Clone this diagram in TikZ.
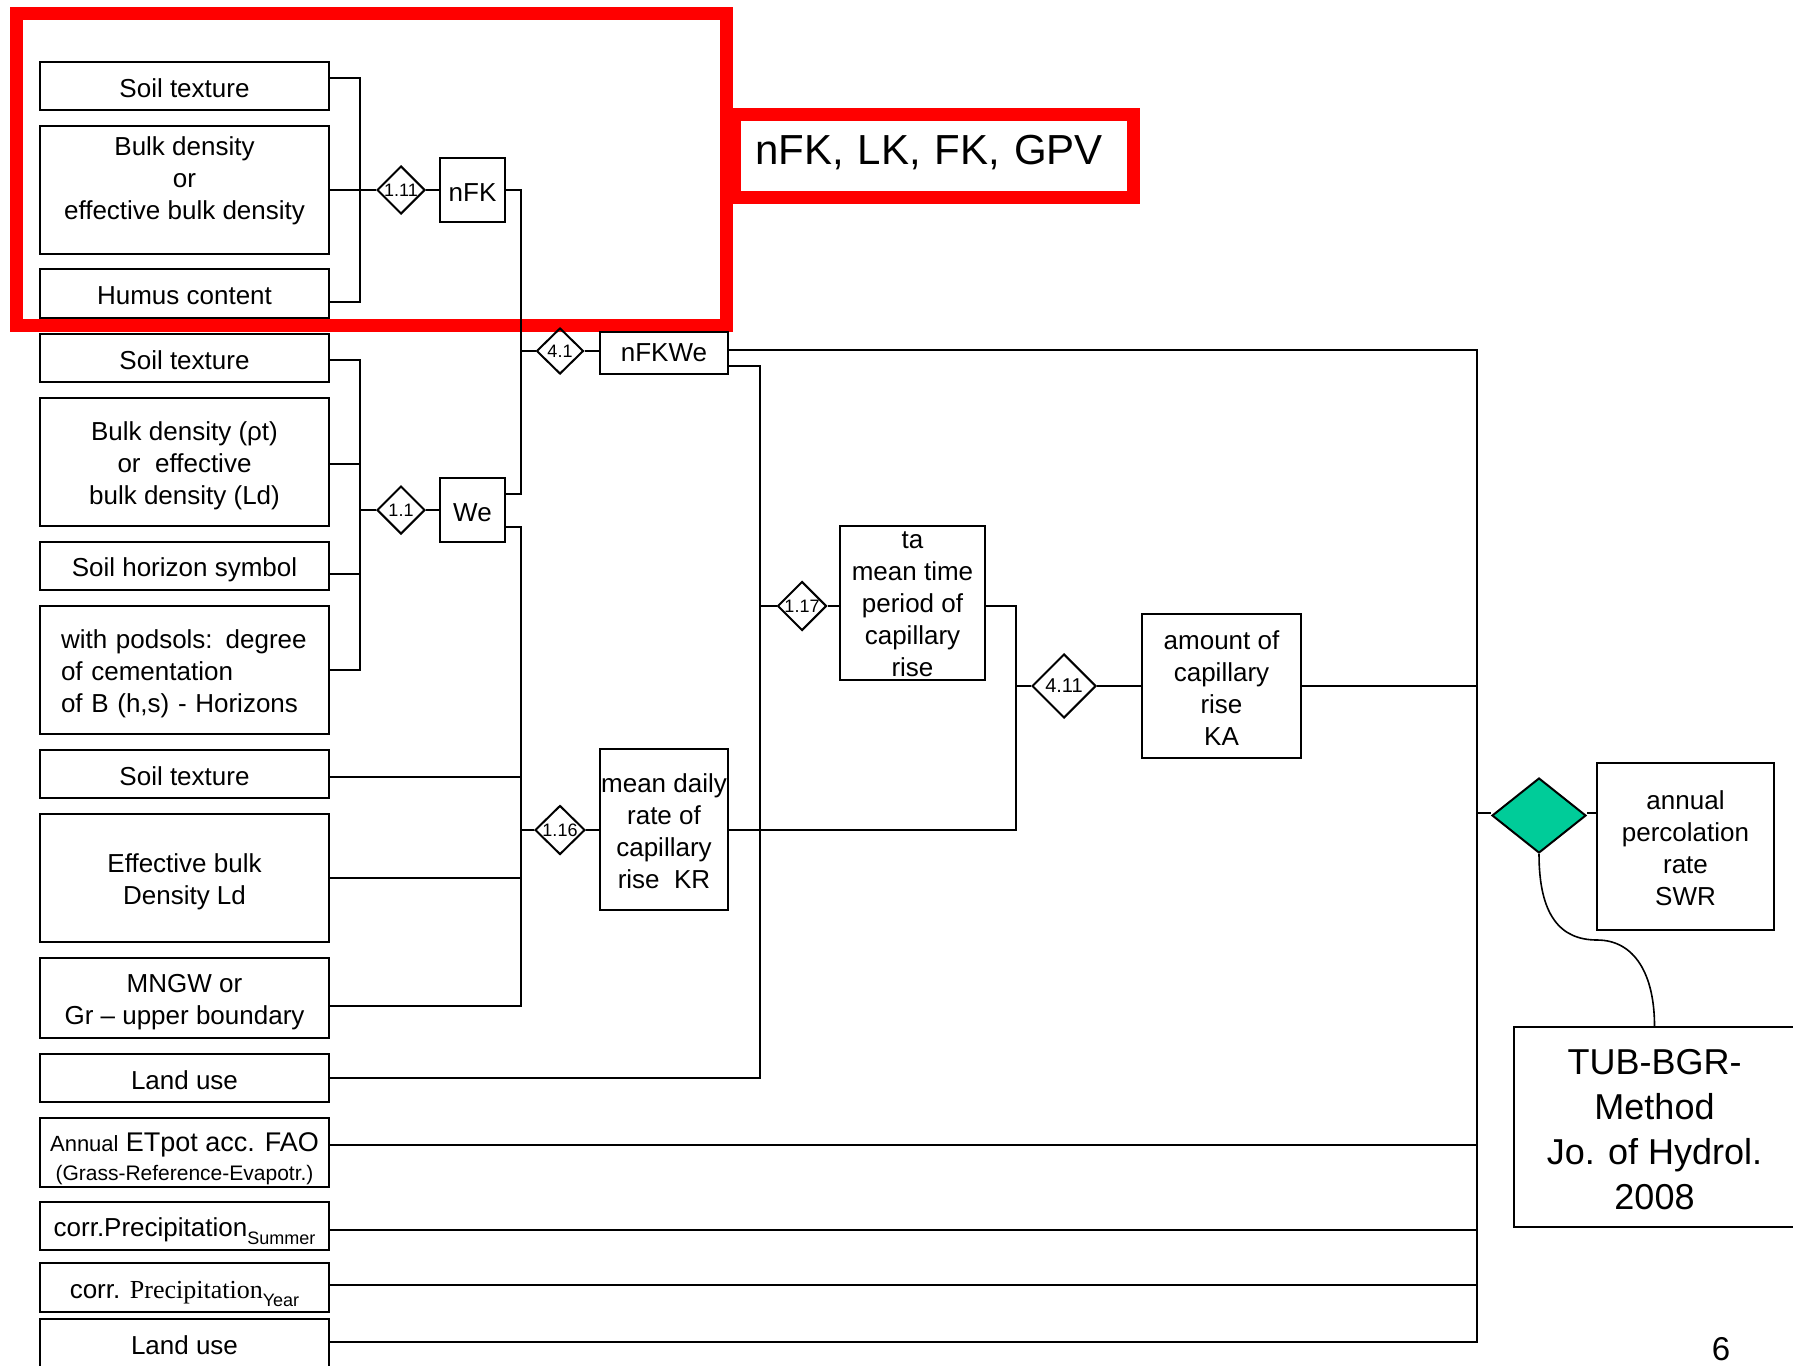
\documentclass[tikz,border=0pt]{standalone}
\usepackage{fontspec}
\setmainfont{Liberation Sans}
\newfontfamily\tnr{Liberation Serif}
\usetikzlibrary{shapes.geometric}
\definecolor{greenc}{RGB}{0,204,153}
\newcommand\mytop{\rule{0pt}{1.04em}}
\newcommand\mybot{\rule[-0.19em]{0pt}{0.19em}}
\begin{document}
\begin{tikzpicture}[x=1pt,y=-1pt,
  box/.style={draw, line width=2pt, inner sep=0pt, align=center, font=\fontsize{26}{32}\selectfont},
  lbox/.style={box, minimum width=289pt},
  dia/.style={draw, diamond, line width=2pt, inner sep=0pt, font=\fontsize{18}{18}\selectfont},
  ln/.style={line width=2pt},
  redline/.style={draw=red, line width=13pt}]
\fill[white] (0,0) rectangle (1793,1365);
\useasboundingbox (0,0) rectangle (1793,1365);

% red highlight frames
\draw[redline] (16,13.5) rectangle (726.5,325.5);
\node[redline, minimum height=83pt, text width=357.5pt, text depth=11.6pt, inner xsep=21pt, inner ysep=0pt, align=left, font=\fontsize{42}{50}\selectfont] (hl) at (933.75,155.5) {nFK, LK, FK, GPV};

% left column group 1
\node[lbox, minimum height=48pt] (A1) at (184.5,86) {\mytop Soil texture\mybot};
\node[lbox, minimum height=128pt] (A2) at (184.5,190) {\mytop Bulk density\\or\\effective bulk density\\ \mbox{}};
\node[lbox, minimum height=49pt] (A3) at (184.5,293.5) {\mytop Humus content\mybot};
% group 2
\node[lbox, minimum height=48pt] (B1) at (184.5,358) {\mytop Soil texture\mybot};
\node[lbox, minimum height=128pt] (B2) at (184.5,462) {\mytop Bulk density (ρt)\\or\ \ effective\\bulk density (Ld)\mybot};
\node[lbox, minimum height=48pt] (B3) at (184.5,566) {\mytop Soil horizon symbol\mybot};
\node[box, minimum height=128pt, text width=247pt, inner xsep=21pt, align=left] (B4) at (184.5,670) {\mytop with podsols: degree\\of cementation\\of B (h,s) - Horizons\mybot};
% group 3
\node[lbox, minimum height=48pt] (C1) at (184.5,774) {\mytop Soil texture\mybot};
\node[lbox, minimum height=128pt] (C2) at (184.5,878) {\mytop Effective bulk\\Density Ld\mybot};
\node[lbox, minimum height=80pt] (C3) at (184.5,998) {\mytop MNGW or\\Gr – upper boundary\mybot};
% further inputs
\node[lbox, minimum height=48pt] (D1) at (184.5,1078) {\mytop Land use\mybot};
\node[lbox, minimum height=69pt, font=\fontsize{26}{29}\selectfont] (D2) at (184.5,1152.5) {\rule{0pt}{31pt}{\fontsize{22}{29}\selectfont Annual} {\fontsize{27}{29}\selectfont ETpot acc. FAO}\\{\fontsize{21}{29}\selectfont (Grass-Reference-Evapotr.)}};
\node[lbox, minimum height=48pt] (D3) at (184.5,1226) {\mytop corr.Precipitation\smash{\raisebox{-8pt}{\fontsize{18}{18}\selectfont Summer}}\mybot};
\node[lbox, minimum height=49pt] (D4) at (184.5,1287.5) {\mytop corr. {\tnr Precipitation}\smash{\raisebox{-8pt}{\fontsize{18}{18}\selectfont Year}}\mybot};
\node[lbox, minimum height=49pt] (D5) at (184.5,1343.5) {\mytop Land use\mybot};

% intermediate nodes
\node[box, minimum width=65pt, minimum height=64pt] (nfk) at (472.5,190) {\mytop nFK\mybot};
\node[box, minimum width=65pt, minimum height=64pt] (we) at (472.5,510) {\mytop We\mybot};
\node[box, minimum width=128pt, minimum height=42pt] (nfkwe) at (664,353) {nFKWe};
\node[box, minimum width=128pt, minimum height=161pt] (kr) at (664,829.5) {\mytop mean daily\\rate of\\capillary\\rise\ \ KR\mybot};
\node[box, minimum width=145pt, minimum height=154pt] (ta) at (912.5,603) {};
\node[align=center, inner sep=0pt, font=\fontsize{26}{32}\selectfont] (tatext) at (912.5,604) {ta\\mean time\\period of\\capillary\\rise};
\node[box, minimum width=159pt, minimum height=144pt] (ka) at (1221.5,686) {\mytop amount of\\capillary\\rise\\KA\mybot};
\node[box, minimum width=177pt, minimum height=167pt] (swr) at (1685.5,846.5) {\mytop annual\\percolation\\rate\\SWR\mybot};
\node[box, minimum width=281pt, minimum height=200pt, font=\fontsize{36}{45}\selectfont] (tub) at (1654.5,1127) {\mytop TUB-BGR-\\Method\\Jo. of Hydrol.\\2008\mybot};

% diamonds
\node[dia, minimum width=48pt, minimum height=48pt] (d111) at (401,190) {1.11};
\node[dia, minimum width=48pt, minimum height=48pt] (d11) at (401,510) {1.1};
\node[dia, minimum width=47pt, minimum height=46pt] (d41) at (560,351) {4.1};
\node[dia, minimum width=50pt, minimum height=49pt] (d116) at (560,830) {1.16};
\node[dia, minimum width=49pt, minimum height=49pt] (d117) at (802,606) {1.17};
\node[dia, minimum width=64pt, minimum height=64pt, font=\fontsize{20}{20}\selectfont] (d411) at (1064,686) {4.11};
\node[draw, diamond, line width=2pt, fill=greenc, inner sep=0pt, minimum width=94pt, minimum height=75pt] (gd) at (1539,815.5) {};

% junctions
\coordinate (j111) at (360,190);
\coordinate (j41) at (521,351);
\coordinate (j11) at (360,510);
\coordinate (j116) at (521,830);
\coordinate (j117) at (760,606);
\coordinate (j411) at (1016,686);
\coordinate (mtop) at (1477,350);
\coordinate (mbot) at (1477,1342);

% group 1 connectors
\draw[ln] (A1.east |- 0,78) -| (j111);
\draw[ln] (A3.east |- 0,302) -| (j111);
\draw[ln] (A2.east) -- (d111.west);
\draw[ln] (d111.east) -- (nfk.west);
% 4.1
\draw[ln] (nfk.east) -| (j41);
\draw[ln] (we.east |- 0,494) -| (j41);
\draw[ln] (j41) -- (d41.west);
\draw[ln] (d41.east) -- (d41.east -| nfkwe.west);
% group 2
\draw[ln] (B1.east |- 0,360) -| (j11);
\draw[ln] (B4.east) -| (j11);
\draw[ln] (B2.east |- 0,464) -- (j11 |- 0,464);
\draw[ln] (B3.east |- 0,574) -- (j11 |- 0,574);
\draw[ln] (j11) -- (d11.west);
\draw[ln] (d11.east) -- (we.west);
% group 3
\draw[ln] (we.east |- 0,527) -| (j116);
\draw[ln] (C3.east |- 0,1006) -| (j116);
\draw[ln] (C1.east |- 0,777) -- (j116 |- 0,777);
\draw[ln] (C2.east) -- (j116 |- C2.east);
\draw[ln] (j116) -- (d116.west);
\draw[ln] (d116.east) -- (d116.east -| kr.west);
% 1.17
\draw[ln] (nfkwe.east |- 0,366) -| (j117);
\draw[ln] (D1.east) -| (j117);
\draw[ln] (j117) -- (d117.west);
\draw[ln] (d117.east) -- (d117.east -| ta.west);
% 4.11
\draw[ln] (ta.east |- 0,606) -| (j411);
\draw[ln] (kr.east) -| (j411);
\draw[ln] (j411) -- (d411.west);
\draw[ln] (d411.east) -- (ka.west);
% main bus
\draw[ln] (nfkwe.east |- mtop) -- (mtop) -- (mbot) -- (D5.east |- mbot);
\draw[ln] (ka.east) -- (ka.east -| mtop);
\draw[ln] (D2.east |- 0,1145) -- (mtop |- 0,1145);
\draw[ln] (D3.east |- 0,1230) -- (mtop |- 0,1230);
\draw[ln] (D4.east |- 0,1285) -- (mtop |- 0,1285);
\draw[ln] (mtop |- 0,813) -- (gd.west |- 0,813);
\draw[ln] (gd.east |- 0,813) -- (swr.west |- 0,813);
\draw[line width=1.6pt] (gd.south) .. controls (1539,915) and (1560,940) .. (1597,940) .. controls (1635,940) and (1654.5,975) .. (tub.north);

\node[font=\fontsize{33}{33}\selectfont, inner sep=0pt] (pg) at (1721,1349) {6};
\end{tikzpicture}
\end{document}
